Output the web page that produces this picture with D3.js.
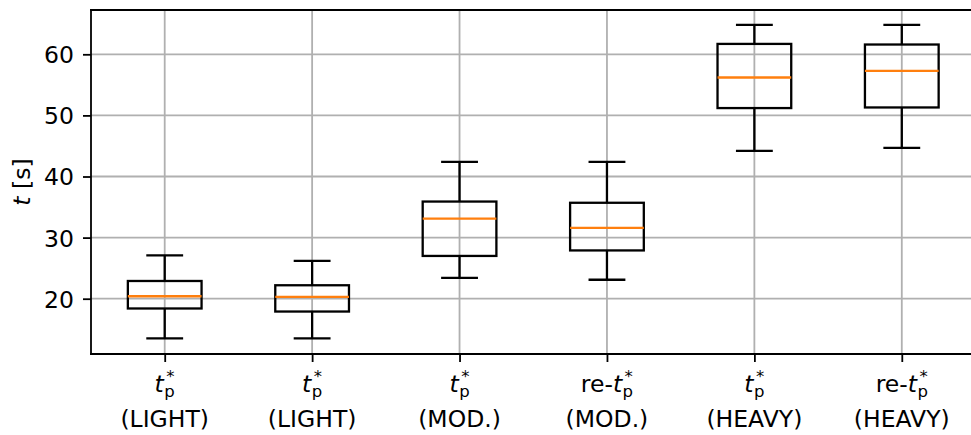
<!DOCTYPE html>
<html>
<head>
<meta charset="utf-8">
<script src="https://cdn.jsdelivr.net/npm/d3@7"></script>
<style>
  html, body { margin: 0; padding: 0; background: #fff; }
  svg { display: block; }
  text { font-family: "DejaVu Sans", sans-serif; fill: #000; }
</style>
</head>
<body>
<svg id="chart" width="971" height="435"></svg>
<script>
// Box-plot summary of t [s] per condition
const prefixes = ["", "", "", "re-", "", "re-"];
const groups = ["(LIGHT)", "(LIGHT)", "(MOD.)", "(MOD.)", "(HEAVY)", "(HEAVY)"];
const whiskerLow  = [13.5, 13.5, 23.4, 23.1, 44.2, 44.7];
const q1          = [18.4, 17.9, 27.0, 27.9, 51.2, 51.3];
const median      = [20.4, 20.3, 33.1, 31.6, 56.2, 57.3];
const q3          = [22.9, 22.2, 35.9, 35.7, 61.7, 61.6];
const whiskerHigh = [27.1, 26.2, 42.4, 42.4, 64.8, 64.8];
const yTicks = [20, 30, 40, 50, 60];

const svg = d3.select("#chart");
const plotLeft = 91, plotTop = 10, plotBottom = 354, plotRight = 975.5;
const fs = 23.5, fsSmall = 16.5;

const positions = d3.range(1, prefixes.length + 1);
const x = d3.scaleLinear().domain([0.5, 6.5]).range([plotLeft, plotRight]);
const y = d3.scaleLinear().domain([10.95, 67.25]).range([plotBottom, plotTop]);

const grid = svg.append("g").attr("stroke", "#b0b0b0").attr("stroke-width", 1.8);
grid.selectAll("line.v").data(positions).join("line")
  .attr("x1", d => x(d)).attr("x2", d => x(d))
  .attr("y1", plotTop).attr("y2", plotBottom);
grid.selectAll("line.h").data(yTicks).join("line")
  .attr("x1", plotLeft).attr("x2", plotRight)
  .attr("y1", d => y(d)).attr("y2", d => y(d));

// Axes (ticks only on x; its labels use math-style text below)
const yAxis = d3.axisLeft(y).tickValues(yTicks).tickSize(8).tickPadding(9).tickFormat(d3.format("d"));
const gy = svg.append("g").attr("transform", `translate(${plotLeft},0)`).call(yAxis);
gy.select(".domain").remove();
gy.selectAll(".tick line").attr("stroke", "#000").attr("stroke-width", 1.8);
gy.selectAll(".tick text").attr("font-size", fs).attr("font-family", "DejaVu Sans")
  .attr("fill", "#000").attr("dy", "0.36em");

const xAxis = d3.axisBottom(x).tickValues(positions).tickSize(8).tickFormat("");
const gx = svg.append("g").attr("transform", `translate(0,${plotBottom})`).call(xAxis);
gx.select(".domain").remove();
gx.selectAll(".tick line").attr("stroke", "#000").attr("stroke-width", 1.8);

// Boxes
const boxW = 0.25, capW = 0.125;
const boxes = svg.append("g").attr("fill", "none").attr("stroke", "#000").attr("stroke-width", 2.3);
positions.forEach((p, i) => {
  const g = boxes.append("g");
  g.append("rect")
    .attr("x", x(p - boxW)).attr("width", x(p + boxW) - x(p - boxW))
    .attr("y", y(q3[i])).attr("height", y(q1[i]) - y(q3[i]));
  g.append("line").attr("x1", x(p)).attr("x2", x(p)).attr("y1", y(q1[i])).attr("y2", y(whiskerLow[i]));
  g.append("line").attr("x1", x(p)).attr("x2", x(p)).attr("y1", y(q3[i])).attr("y2", y(whiskerHigh[i]));
  g.append("line").attr("x1", x(p - capW)).attr("x2", x(p + capW)).attr("y1", y(whiskerLow[i])).attr("y2", y(whiskerLow[i]));
  g.append("line").attr("x1", x(p - capW)).attr("x2", x(p + capW)).attr("y1", y(whiskerHigh[i])).attr("y2", y(whiskerHigh[i]));
  g.append("line").attr("stroke", "#ff7f0e")
    .attr("x1", x(p - boxW)).attr("x2", x(p + boxW)).attr("y1", y(median[i])).attr("y2", y(median[i]));
});

// Spines
const spines = svg.append("g").attr("stroke", "#000").attr("stroke-width", 1.8).attr("stroke-linecap", "square");
spines.append("line").attr("x1", plotLeft).attr("x2", plotLeft).attr("y1", plotTop).attr("y2", plotBottom);
spines.append("line").attr("x1", plotLeft).attr("x2", plotRight).attr("y1", plotTop).attr("y2", plotTop);
spines.append("line").attr("x1", plotLeft).attr("x2", plotRight).attr("y1", plotBottom).attr("y2", plotBottom);

// Category labels: prefix + italic t with stacked subscript p and superscript *
const line1 = 392, line2 = 427;
positions.forEach((p, i) => {
  const t = svg.append("text").attr("x", 0).attr("y", line1).attr("font-size", fs);
  t.append("tspan").text(prefixes[i]);
  t.append("tspan").attr("font-style", "italic").text("t");
  const sub = t.append("tspan").attr("font-size", fsSmall).attr("dx", 0.5).attr("dy", 5).text("p");
  const subW = sub.node().getComputedTextLength();
  t.append("tspan").attr("font-size", fsSmall).attr("dx", -subW + 2).attr("dy", -15).text("*");
  const bb = t.node().getBBox();
  t.attr("x", x(p) - bb.width / 2);
  svg.append("text").attr("x", x(p)).attr("y", line2).attr("font-size", fs)
    .attr("text-anchor", "middle").text(groups[i]);
});

// Y axis title
const yl = svg.append("text").attr("transform", `translate(30,${(plotTop + plotBottom) / 2}) rotate(-90)`)
  .attr("font-size", fs).attr("text-anchor", "middle");
yl.append("tspan").attr("font-style", "italic").text("t");
yl.append("tspan").text(" [s]");
</script>
</body>
</html>
